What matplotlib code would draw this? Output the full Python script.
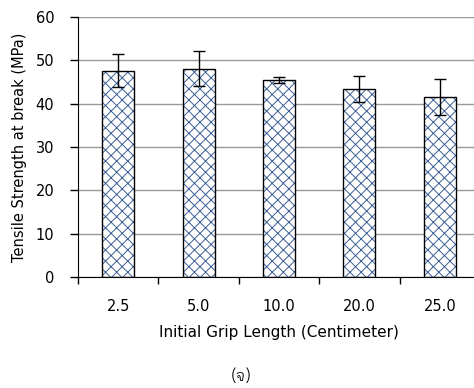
import numpy as np
import matplotlib
matplotlib.use('Agg')
import matplotlib.pyplot as plt

# data
grip = ['2.5', '5.0', '10.0', '20.0', '25.0']
strength = [47.6, 48.1, 45.4, 43.3, 41.6]
err = [3.8, 4.0, 0.7, 3.0, 4.2]

plt.rcParams['font.family'] = ['DejaVu Sans', 'Krub']
plt.rcParams['hatch.linewidth'] = 0.7

fig = plt.figure(figsize=(4.74, 3.88), dpi=100)
ax = fig.add_axes([78/474, 1 - 277/388, 402/474, 260/388])

x = np.arange(len(grip))
# hatch layer (blue) then black outline on top
ax.bar(x, strength, width=0.4, color='white', edgecolor='#3d5f96', linewidth=0,
       hatch='xxx', zorder=2)
ax.bar(x, strength, width=0.4, color='none', edgecolor='black', linewidth=1.0,
       zorder=2.5)
ax.errorbar(x, strength, yerr=err, fmt='none', ecolor='black', elinewidth=1,
            capsize=4, capthick=1, zorder=3)

ax.set_xlim(-0.5, 4.5)
ax.set_ylim(0, 60)
ax.set_yticks(range(0, 61, 10))
ax.yaxis.grid(True, color='#999999', linewidth=1, zorder=0)
ax.tick_params(axis='y', direction='out', length=6, width=1, labelsize=10.5, pad=11)

ax.set_xticks(x - 0.5, minor=False)
ax.set_xticklabels([])
ax.set_xticks(x, minor=True)
ax.set_xticklabels(grip, minor=True)
ax.tick_params(axis='x', which='major', direction='out', length=5, width=1)
ax.tick_params(axis='x', which='minor', length=0, labelsize=10.5, pad=16)

for s in ['top', 'right']:
    ax.spines[s].set_visible(False)
ax.spines['left'].set_color('black')
ax.spines['bottom'].set_color('black')

ax.set_ylabel('Tensile Strength at break (MPa)', fontsize=10.5, labelpad=6)
ax.set_xlabel('Initial Grip Length (Centimeter)', fontsize=11, labelpad=8)
fig.text(241/474, 1 - 376/388, '(จ)', ha='center', va='center', fontsize=11,
         family=['Krub'])

fig.savefig('out.png', dpi=100)
